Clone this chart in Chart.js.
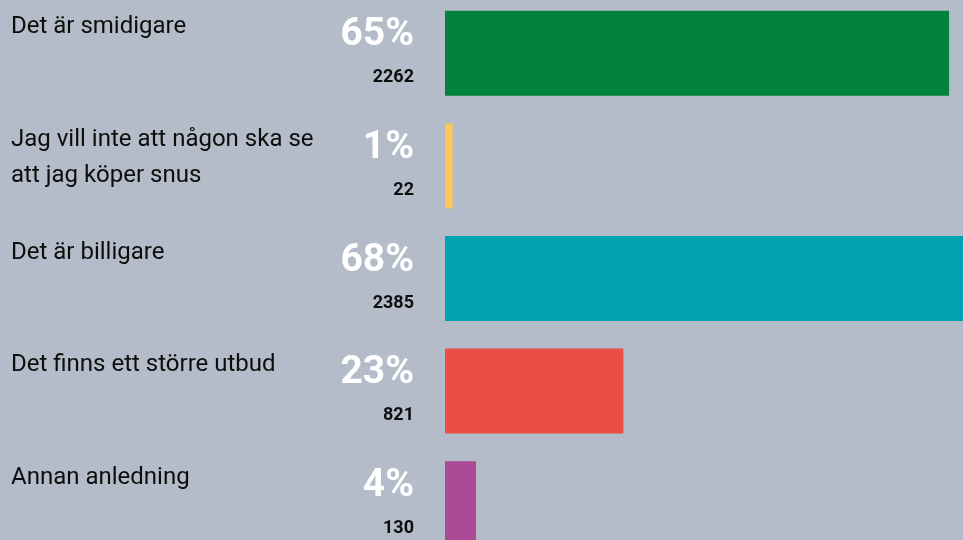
<!DOCTYPE html>
<html>
<head>
<meta charset="utf-8">
<script src="https://cdn.jsdelivr.net/npm/chart.js@4.4.0/dist/chart.umd.min.js"></script>
<style>
  html, body { margin: 0; padding: 0; background: #b3bcc8; overflow: hidden; }
  #wrap { position: absolute; left: 0; top: -3px; width: 963px; height: 563px; }
</style>
</head>
<body>
<div id="wrap"><canvas id="chart" width="963" height="563"></canvas></div>
<script>
// svarsalternativ (flerradiga etiketter som arrayer)
const categories = [
    ["Det är smidigare"],
    ["Jag vill inte att någon ska se", "att jag köper snus"],
    ["Det är billigare"],
    ["Det finns ett större utbud"],
    ["Annan anledning"]
];
const percents = [65, 1, 68, 23, 4];
const counts = [2262, 22, 2385, 821, 130];
const colors = ['#01833b', '#fdc75b', '#00a2b1', '#e94f45', '#ab4b95'];

// text till vänster om staplarna
const rowText = {
    id: 'rowText',
    afterDatasetsDraw(chart) {
        const ctx = chart.ctx;
        const y = chart.scales.y;
        ctx.save();
        categories.forEach((lines, i) => {
            const cy = y.getPixelForValue(i);
            ctx.fillStyle = '#0d0d0d';
            ctx.font = '24px Roboto';
            ctx.textAlign = 'left';
            ctx.textBaseline = 'alphabetic';
            lines.forEach((line, j) => {
                ctx.fillText(line, 11, cy - 20 + j * 36);
            });
            ctx.textAlign = 'right';
            ctx.fillStyle = '#ffffff';
            ctx.font = 'bold 39px Roboto';
            ctx.fillText(percents[i] + '%', 414, cy - 8);
            ctx.fillStyle = '#0d0d0d';
            ctx.font = 'bold 18px Roboto';
            ctx.fillText(counts[i], 414, cy + 29);
        });
        ctx.restore();
    }
};

new Chart(document.getElementById('chart').getContext('2d'), {
    type: 'bar',
    data: {
        labels: categories,
        datasets: [{
            data: percents,
            backgroundColor: colors,
            borderWidth: 0,
            barPercentage: 0.755,
            categoryPercentage: 1
        }]
    },
    options: {
        indexAxis: 'y',
        responsive: false,
        animation: false,
        layout: { padding: { left: 445, right: 0, top: 0, bottom: 0 } },
        plugins: {
            legend: { display: false },
            tooltip: { enabled: false }
        },
        scales: {
            x: { display: false, min: 0, max: 66.8 },
            y: { display: false }
        }
    },
    plugins: [rowText]
});
</script>
</body>
</html>
